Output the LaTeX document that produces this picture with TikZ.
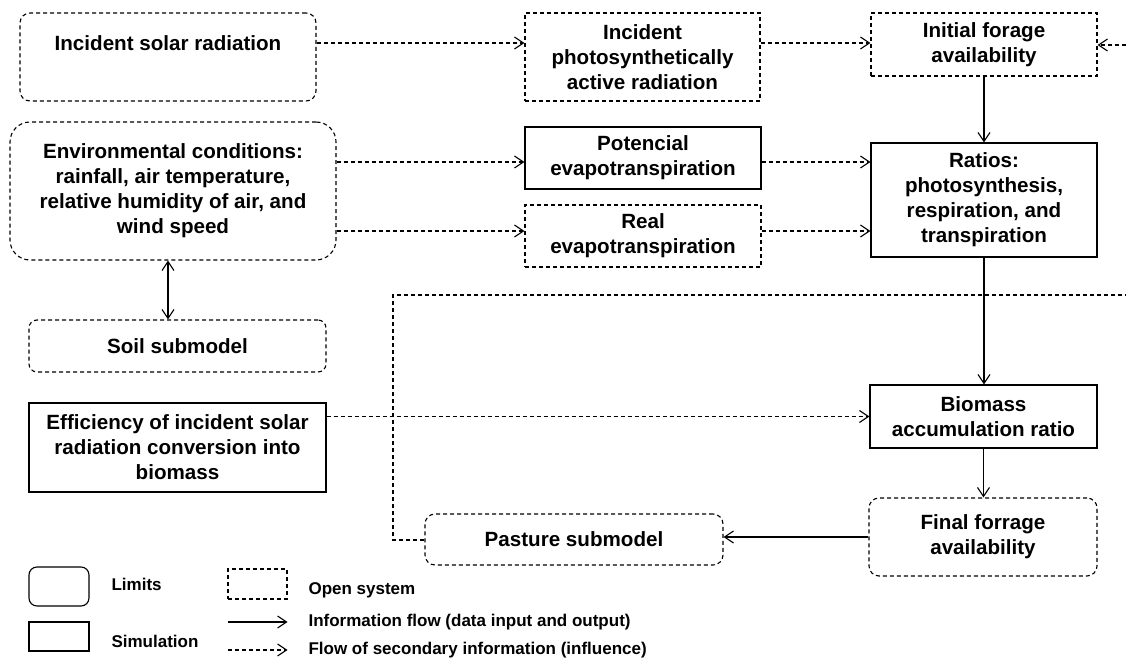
\documentclass[tikz,border=0pt]{standalone}
\usepackage{fontspec}
\setmainfont{Liberation Sans}
\usetikzlibrary{arrows.meta}
\newcommand{\boxfont}{\fontsize{20.6}{25}\selectfont\bfseries}
\newcommand{\keyfont}{\fontsize{17}{20}\selectfont\bfseries}
\begin{document}
\begin{tikzpicture}[x=1pt,y=-1pt,
  line width=1.1pt,
  >={Straight Barb[length=9pt,width=12pt]},
  box/.style={draw, inner sep=0pt, align=center, font=\boxfont},
  lim/.style={rounded corners=#1},
  lim/.default=10pt,
  opensys/.style={dash pattern=on 4pt off 3pt},
  flow/.style={->},
  dflow/.style={->, dash pattern=on 4pt off 3pt},
  dline/.style={dash pattern=on 4pt off 3pt},
  keytext/.style={anchor=west, inner sep=0pt, font=\keyfont}
]
\useasboundingbox (0,0) rectangle (1126,660);

% ---- boxes ----
\node[box, lim, opensys, minimum width=296, minimum height=88] (solar) at (168,57) {};
\node[inner sep=0pt, font=\boxfont] (solarT) at (168,43) {Incident solar radiation};
\node[box, opensys, minimum width=235, minimum height=88] (par) at (642.5,57)
  {Incident\\photosynthetically\\active radiation};
\node[box, opensys, minimum width=226, minimum height=63] (ifa) at (984,44.5)
  {Initial forage\\availability};
\node[box, lim=20pt, opensys, minimum width=326, minimum height=138] (env) at (173,191)
  {Environmental conditions:\\rainfall, air temperature,\\relative humidity of air, and\\wind speed};
\node[box, minimum width=236, minimum height=62] (pot) at (643,158)
  {Potencial\\evapotranspiration};
\node[box, opensys, minimum width=236, minimum height=62] (real) at (643,236)
  {Real\\evapotranspiration};
\node[box, minimum width=226, minimum height=114] (ratios) at (984,200)
  {Ratios:\\photosynthesis,\\respiration, and\\transpiration};
\node[box, lim=8pt, opensys, minimum width=297, minimum height=52] (soil) at (177.5,346)
  {Soil submodel};
\node[box, minimum width=297, minimum height=89] (eff) at (177.5,447.5)
  {Efficiency of incident solar\\radiation conversion into\\biomass};
\node[box, minimum width=227, minimum height=63] (bio) at (983.5,416.5)
  {Biomass\\accumulation ratio};
\node[box, lim, opensys, minimum width=228, minimum height=78] (ffa) at (983,537)
  {Final forrage\\availability};
\node[box, lim, opensys, minimum width=298, minimum height=51] (past) at (574,539.5)
  {Pasture submodel};

% ---- helper coordinates for connector rows and columns ----
\coordinate (rowA) at (0,162);
\coordinate (rowB) at (0,231);
\coordinate (colS) at (168,0);
\coordinate (rin) at (1126,45);
\coordinate (loopA) at (393,540);
\coordinate (loopB) at (393,295);
\coordinate (rout) at (1126,295);

% ---- connectors ----
\draw[dflow] (solar.east |- solarT) -- (par.west |- solarT);
\draw[dflow] (par.east |- solarT) -- (ifa.west |- solarT);
\draw[dflow] (rin) -- (ifa.east |- rin);
\draw[flow] (ifa.south) -- (ratios.north);
\draw[dflow] (env.east |- rowA) -- (pot.west |- rowA);
\draw[dflow] (pot.east |- rowA) -- (ratios.west |- rowA);
\draw[dflow] (env.east |- rowB) -- (real.west |- rowB);
\draw[dflow] (real.east |- rowB) -- (ratios.west |- rowB);
\draw[<->] (env.south -| colS) -- (soil.north -| colS);
\draw[dflow] (eff.east |- bio.west) -- (bio.west);
\draw[flow] (ratios.south) -- (ratios.south |- bio.north);
\draw[flow] (bio.south) -- (bio.south |- ffa.north);
\draw[flow] (ffa.west) -- (ffa.west -| past.east);
\draw[dline] (past.west |- loopA) -- (loopA) -- (loopB) -- (rout);

% ---- key ----
\node[draw, lim=8pt, minimum width=60, minimum height=39] (kLim) at (59,586.5) {};
\node[keytext] (kLimT) at (111,584) {Limits};
\node[draw, minimum width=60, minimum height=29] (kSim) at (59,636.5) {};
\node[keytext] (kSimT) at (111,641) {Simulation};
\node[draw, opensys, minimum width=59, minimum height=30] (kOpen) at (257.5,584) {};
\node[keytext] (kOpenT) at (308,590) {Open system};
\coordinate (kf1) at (228,622);
\node[keytext] (kFlowT) at (308,622) {Information flow (data input and output)};
\draw[flow] (kf1) -- (kFlowT.west -| kOpen.east);
\coordinate (kd1) at (228,650);
\node[keytext] (kDFlowT) at (308,650) {Flow of secondary information (influence)};
\draw[dflow] (kd1) -- (kDFlowT.west -| kOpen.east);
\end{tikzpicture}
\end{document}
